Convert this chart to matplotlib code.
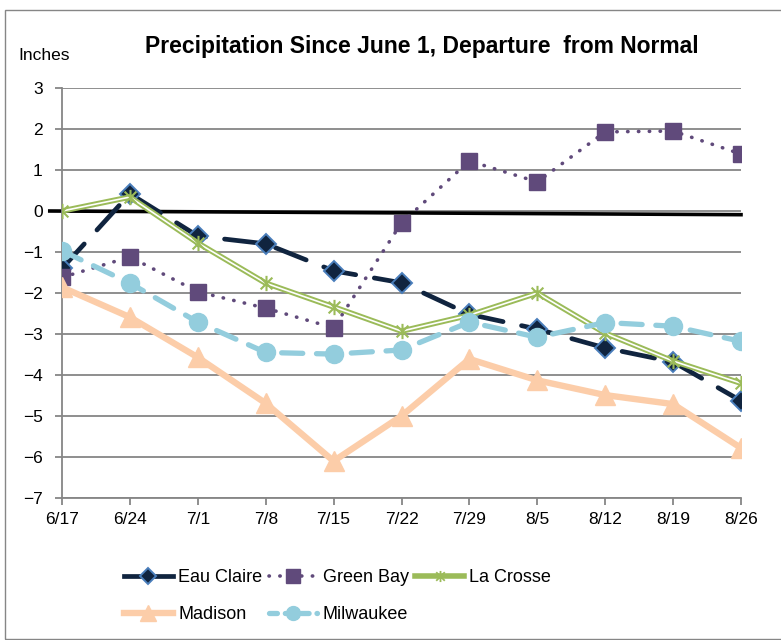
import numpy as np
import matplotlib
matplotlib.use('Agg')
import matplotlib.pyplot as plt
from matplotlib.path import Path
from matplotlib.patches import Rectangle
from matplotlib.lines import Line2D

plt.rcParams['font.family'] = ['Liberation Sans Narrow', 'Liberation Sans', 'DejaVu Sans']

# data
dates = ['6/17', '6/24', '7/1', '7/8', '7/15', '7/22', '7/29', '8/5', '8/12', '8/19', '8/26']
eau_claire = [-1.40, 0.42, -0.61, -0.80, -1.46, -1.75, -2.52, -2.88, -3.34, -3.68, -4.63]
green_bay = [-1.62, -1.12, -1.97, -2.37, -2.85, -0.29, 1.22, 0.71, 1.93, 1.95, 1.39]
la_crosse = [0.0, 0.34, -0.78, -1.76, -2.34, -2.93, -2.54, -2.0, -2.98, -3.66, -4.20]
madison = [-1.86, -2.59, -3.57, -4.69, -6.10, -5.00, -3.61, -4.13, -4.49, -4.71, -5.78]
milwaukee = [-0.97, -1.76, -2.71, -3.45, -3.49, -3.39, -2.71, -3.08, -2.72, -2.81, -3.18]
# the hand drawn "normal" line
normal_x = [-0.18, 10]
normal_y = [0.0, -0.09]

x = np.arange(len(dates))

fig = plt.figure(figsize=(7.81, 6.40), dpi=100)
ax = fig.add_axes([62/781, 1 - 498/640, (741-62)/781, (498-88)/640])

grey = '#868686'
ax.set_ylim(-7, 3)
ax.set_xlim(0, 10)
ax.set_yticks(np.arange(-7, 4, 1))
ax.set_xticks(x)
ax.set_xticklabels(dates)
ax.yaxis.grid(True, color=grey, linewidth=1.3)
ax.set_axisbelow(True)
for s in ['top', 'right']:
    ax.spines[s].set_visible(False)
for s in ['left', 'bottom']:
    ax.spines[s].set_color(grey)
    ax.spines[s].set_linewidth(1.3)
ax.tick_params(axis='both', colors=grey, labelcolor='black', labelsize=12.5, length=5, width=1.3)
ax.tick_params(axis='y', pad=9)
ax.tick_params(axis='x', pad=5)

ax.plot(normal_x, normal_y, color='black', linewidth=2.6, clip_on=False, zorder=2)

# Excel style asterisk marker: X plus vertical bar
star = Path([(-1, -1), (1, 1), (-1, 1), (1, -1), (0, -1.3), (0, 1.3)],
            [Path.MOVETO, Path.LINETO, Path.MOVETO, Path.LINETO, Path.MOVETO, Path.LINETO])

ax.plot(x, eau_claire, color='#10243F', linewidth=3.4, dashes=(7, 4), dash_capstyle='round',
        marker='D', markersize=10, markerfacecolor='#10243F', markeredgecolor='#4A7EBB',
        markeredgewidth=1.4, zorder=3)
ax.plot(x, green_bay, color='#604A7B', linewidth=2.6, linestyle=(0, (0.1, 2.9)), dash_capstyle='round',
        marker='s', markersize=11, markerfacecolor='#604A7B', markeredgecolor='#604A7B', zorder=4)
# double compound line
ax.plot(x, la_crosse, color='#9BBB59', linewidth=4.0, zorder=5)
ax.plot(x, la_crosse, color='white', linewidth=1.2, zorder=5)
ax.plot(x, la_crosse, linestyle='none', marker=star, markersize=11, markeredgecolor='#9BBB59',
        markerfacecolor='none', markeredgewidth=1.5, zorder=5)
ax.plot(x, madison, color='#FCCDA9', linewidth=4.6, marker='^', markersize=14,
        markerfacecolor='#FCCDA9', markeredgecolor='#FCCDA9', zorder=6)
ax.plot(x, milwaukee, color='#93CDDD', linewidth=3.8, dashes=(4, 2.6), dash_capstyle='round',
        marker='o', markersize=13, markerfacecolor='#93CDDD', markeredgecolor='#93CDDD', zorder=7)

ax.set_title('Precipitation Since June 1, Departure  from Normal', fontsize=16.5, fontweight='bold',
             x=0.53, pad=25)
fig.text(18/781, 1 - 55/640, 'Inches', fontsize=12.5, va='center', ha='left')

# legend handles (La Crosse shown as solid line with asterisk)
h_ec = Line2D([], [], color='#10243F', linewidth=3.4, marker='D', markersize=8,
              markerfacecolor='#10243F', markeredgecolor='#4A7EBB', markeredgewidth=1.4)
h_gb = Line2D([], [], color='#604A7B', linewidth=2.6, linestyle=(0, (0.1, 2.9)), dash_capstyle='round',
              marker='s', markersize=10, markerfacecolor='#604A7B', markeredgecolor='#604A7B')
h_lc = Line2D([], [], color='#9BBB59', linewidth=4.0, marker=star, markersize=8,
              markeredgecolor='#9BBB59', markerfacecolor='none', markeredgewidth=1.3)
h_md = Line2D([], [], color='#FCCDA9', linewidth=4.6, marker='^', markersize=11,
              markerfacecolor='#FCCDA9', markeredgecolor='#FCCDA9')
h_mk = Line2D([], [], color='#93CDDD', linewidth=3.8, dashes=(1.5, 1.5), dash_capstyle='round',
              marker='o', markersize=10, markerfacecolor='#93CDDD', markeredgecolor='#93CDDD')
# column-major fill, so order gives rows: Eau Claire, Green Bay, La Crosse / Madison, Milwaukee
fig.legend([h_ec, h_md, h_gb, h_mk, h_lc],
           ['Eau Claire', 'Madison', 'Green Bay', 'Milwaukee', 'La Crosse'],
           loc='upper left', bbox_to_anchor=(115/781, 1 - 560/640), ncol=3, borderpad=0,
           frameon=False, fontsize=13, handlelength=2.7, columnspacing=0.35, handletextpad=0.3,
           labelspacing=1.1)

fig.patches.append(Rectangle((5/781, 0.002), 1.2, 1 - 10/640 - 0.002, transform=fig.transFigure,
                             fill=False, edgecolor=grey, linewidth=1.0))

fig.savefig('out.png', dpi=100)
